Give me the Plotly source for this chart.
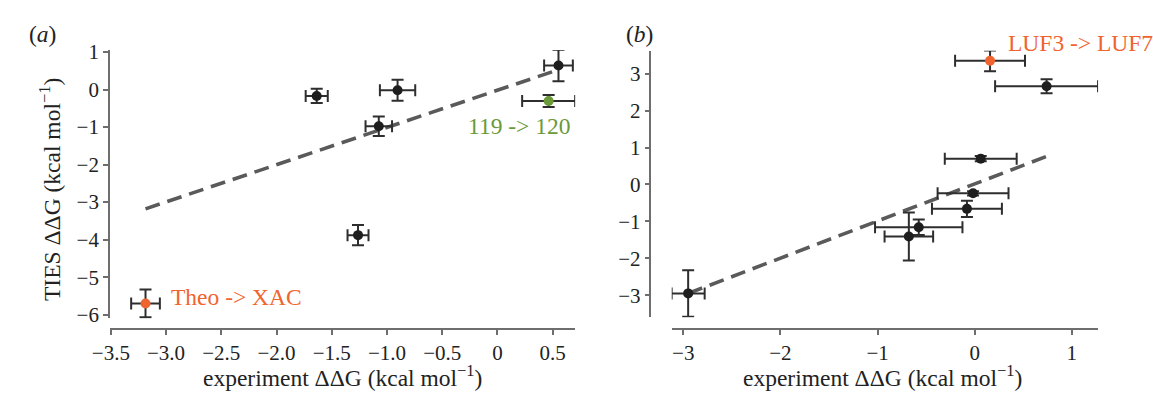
import plotly.graph_objects as go

# ---------------- Panel (a) data ----------------
a_x = [-1.636, -0.904, -1.074, 0.553, -1.262]
a_y = [-0.17, -0.02, -0.98, 0.64, -3.88]
a_xerr = [0.10, 0.16, 0.12, 0.13, 0.095]
a_yerr = [0.19, 0.28, 0.26, 0.42, 0.27]

a_green_x = [0.464]
a_green_y = [-0.305]
a_green_xerr = [0.24]
a_green_yerr = [0.16]

a_orange_x = [-3.186]
a_orange_y = [-5.70]
a_orange_xerr = [0.13]
a_orange_yerr = [0.37]

a_fit_x = [-3.186, 0.553]
a_fit_y = [-3.18, 0.53]

a_xtick_vals = [-3.5, -3.0, -2.5, -2.0, -1.5, -1.0, -0.5, 0, 0.5]
a_xtick_text = ["−3.5", "−3.0", "−2.5", "−2.0", "−1.5", "−1.0", "−0.5", "0", "0.5"]
a_ytick_vals = [1, 0, -1, -2, -3, -4, -5, -6]
a_ytick_text = ["1", "0", "−1", "−2", "−3", "−4", "−5", "−6"]

# ---------------- Panel (b) data ----------------
b_x = [0.740, 0.062, -0.017, -0.080, -0.576, -0.678, -2.95]
b_y = [2.66, 0.70, -0.24, -0.66, -1.16, -1.41, -2.95]
b_xerr = [0.53, 0.37, 0.365, 0.36, 0.45, 0.25, 0.17]
b_yerr = [0.19, 0.07, 0.06, 0.22, 0.21, 0.65, 0.63]

b_orange_x = [0.158]
b_orange_y = [3.35]
b_orange_xerr = [0.36]
b_orange_yerr = [0.28]

b_fit_x = [-2.95, 0.74]
b_fit_y = [-2.95, 0.76]

b_xtick_vals = [-3, -2, -1, 0, 1]
b_xtick_text = ["−3", "−2", "−1", "0", "1"]
b_ytick_vals = [3, 2, 1, 0, -1, -2, -3]
b_ytick_text = ["3", "2", "1", "0", "−1", "−2", "−3"]

# ---------------- styling ----------------
W, H = 1153, 400
SERIF = "Liberation Serif"
BLACK = "#1e1e1e"
ERRC = "#2e2e2e"
GREEN = "#6a9a3a"
ORANGE = "#f0642f"
LINEC = "#5a5a5a"
AXC = "#6e6e6e"
TICKF = dict(family=SERIF, size=21, color="#222222")
BIGF = 23.5


def px_x(p):
    return p / W


def px_y(p):
    return 1 - p / H


def err(vals):
    return dict(type="data", array=vals, visible=True, color=ERRC, thickness=2, width=6)


fig = go.Figure()

# Panel a
fig.add_trace(go.Scatter(x=a_fit_x, y=a_fit_y, mode="lines",
                         line=dict(color=LINEC, width=3.6, dash="15px,8px"),
                         xaxis="x", yaxis="y", showlegend=False, hoverinfo="skip"))
fig.add_trace(go.Scatter(x=a_x, y=a_y, mode="markers",
                         marker=dict(color=BLACK, size=10),
                         error_x=err(a_xerr), error_y=err(a_yerr),
                         xaxis="x", yaxis="y", showlegend=False))
fig.add_trace(go.Scatter(x=a_green_x, y=a_green_y, mode="markers",
                         marker=dict(color=GREEN, size=10),
                         error_x=err(a_green_xerr), error_y=err(a_green_yerr),
                         xaxis="x", yaxis="y", showlegend=False))
fig.add_trace(go.Scatter(x=a_orange_x, y=a_orange_y, mode="markers",
                         marker=dict(color=ORANGE, size=10),
                         error_x=err(a_orange_xerr), error_y=err(a_orange_yerr),
                         xaxis="x", yaxis="y", showlegend=False))

# Panel b
fig.add_trace(go.Scatter(x=b_fit_x, y=b_fit_y, mode="lines",
                         line=dict(color=LINEC, width=3.6, dash="15px,8px"),
                         xaxis="x2", yaxis="y2", showlegend=False, hoverinfo="skip"))
fig.add_trace(go.Scatter(x=b_x, y=b_y, mode="markers",
                         marker=dict(color=BLACK, size=10),
                         error_x=err(b_xerr), error_y=err(b_yerr),
                         xaxis="x2", yaxis="y2", showlegend=False))
fig.add_trace(go.Scatter(x=b_orange_x, y=b_orange_y, mode="markers",
                         marker=dict(color=ORANGE, size=10),
                         error_x=err(b_orange_xerr), error_y=err(b_orange_yerr),
                         xaxis="x2", yaxis="y2", showlegend=False))

axis_common = dict(showgrid=False, zeroline=False, showline=True, linecolor=AXC,
                   linewidth=1.5, ticks="outside", ticklen=5, tickwidth=1.5,
                   tickcolor=AXC, tickfont=TICKF, tickmode="array")

fig.update_layout(
    width=W, height=H,
    margin=dict(l=0, r=0, t=0, b=0),
    paper_bgcolor="white", plot_bgcolor="white",
    font=dict(family=SERIF, color="#222222"),
    xaxis=dict(domain=[px_x(93.3), px_x(566)], range=[-3.509, 0.704],
               anchor="free", position=px_y(334),
               tickvals=a_xtick_vals, ticktext=a_xtick_text, **axis_common),
    yaxis=dict(domain=[px_y(323), px_y(42)], range=[-6.101, 1.051],
               anchor="x", tickvals=a_ytick_vals, ticktext=a_ytick_text, **axis_common),
    xaxis2=dict(domain=[px_x(664.1), px_x(1097.2)], range=[-3.119, 1.27],
                anchor="free", position=px_y(334),
                tickvals=b_xtick_vals, ticktext=b_xtick_text, **axis_common),
    yaxis2=dict(domain=[px_y(321.7), px_y(42.7)], range=[-3.595, 3.621],
                anchor="free", position=px_x(642.5),
                tickvals=b_ytick_vals, ticktext=b_ytick_text, **axis_common),
)

ann = []


def add_text(text, x, y, color="#222222", size=BIGF, xanchor="center", angle=0):
    ann.append(dict(text=text, x=px_x(x), y=px_y(y), xref="paper", yref="paper",
                    showarrow=False, xanchor=xanchor, yanchor="middle",
                    textangle=angle, font=dict(family=SERIF, size=size, color=color)))


add_text("(<i>a</i>)", 25, 25)
add_text("(<i>b</i>)", 631, 25)
add_text("TIES ΔΔG (kcal mol<sup>−1</sup>)", 32, 188, angle=-90)
add_text("experiment ΔΔG (kcal mol<sup>−1</sup>)", 330, 383)
add_text("experiment ΔΔG (kcal mol<sup>−1</sup>)", 878.5, 383)
add_text("119 -> 120", 455, 121, color=GREEN, xanchor="left")
add_text("Theo -> XAC", 153.5, 301, color=ORANGE, xanchor="left")
add_text("LUF3 -> LUF7", 1004, 35, color=ORANGE, xanchor="left")

fig.update_layout(annotations=ann)

# remove the page's default body margin so the figure sits at the window origin
fig.write_html("out.html", config={"displayModeBar": False},
               post_script="document.body.style.margin='0';")
